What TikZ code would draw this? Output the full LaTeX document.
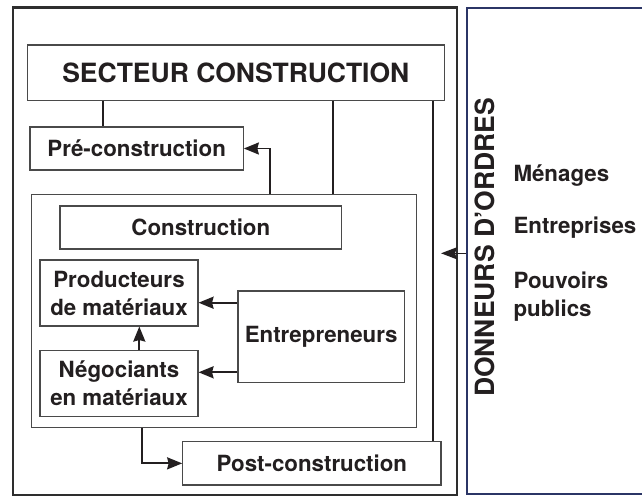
\documentclass[tikz,border=0pt]{standalone}
\usepackage{fontspec}
\setmainfont{TeX Gyre Heros}
\usetikzlibrary{arrows.meta}
\definecolor{ink}{HTML}{231F20}
\definecolor{boxline}{HTML}{4A4A4A}
\definecolor{frameline}{HTML}{2E2E2E}
\definecolor{navy}{HTML}{2B3566}
\begin{document}
\begin{tikzpicture}[x=1pt,y=-1pt,
  lbl/.style={text=ink,font=\fontsize{22.3}{28}\selectfont\bfseries,inner sep=0pt},
  box/.style={lbl,draw=boxline,line width=1.1pt,fill=white,align=center},
  bigbox/.style={box,font=\fontsize{26.5}{30}\selectfont\bfseries},
  frame/.style={draw=frameline,line width=2.4pt,inner sep=0pt},
  navyframe/.style={draw=navy,line width=2.2pt,inner sep=0pt},
  conn/.style={draw=ink,line width=1.9pt},
  arr/.style={conn,-{Stealth[length=15pt,width=12pt,inset=1.5pt]}}]
\useasboundingbox (0,0) rectangle (642,496);
\fill[white] (0,0) rectangle (642,496);

% frames
\node[frame, minimum width=444pt, minimum height=487.7pt] (left) at (234.7,251.2) {};
\node[navyframe, minimum width=193pt, minimum height=486.3pt] (right) at (563.5,251.15) {};
\node[box, minimum width=385pt, minimum height=233pt] (inner) at (224.2,310.8) {};

% boxes
\node[bigbox, minimum width=417pt, minimum height=55.7pt] (sect) at (235.8,72.85) {SECTEUR CONSTRUCTION};
\node[box, minimum width=213.3pt, minimum height=43pt] (pre) at (136.65,148.5) {Pré-construction};
\node[box, minimum width=281.7pt, minimum height=43pt] (constr) at (200.85,227.5) {Construction};
\node[box, minimum width=158pt, minimum height=66pt] (prod) at (119,293) {Producteurs\\de matériaux};
\node[box, minimum width=158pt, minimum height=66pt] (neg) at (119,383.7) {Négociants\\en matériaux};
\node[box, minimum width=166.3pt, minimum height=91.3pt] (entre) at (321.15,336.65) {Entrepreneurs};
\node[box, minimum width=258.3pt, minimum height=43.3pt] (post) at (311.85,463.35) {Post-construction};

% right side
\node[lbl, font=\fontsize{26.5}{30}\selectfont\bfseries, rotate=90] (donneurs) at (485,247.5) {DONNEURS D’ORDRES};
\node[lbl, anchor=base west] (menages) at (513.3,181.7) {Ménages};
\node[lbl, anchor=base west] (entreprises) at (513.3,233.3) {Entreprises};
\node[lbl, anchor=north west, align=left] (pouvoirs) at (513.3,271.6) {Pouvoirs\\publics};

% helper coordinates
\coordinate (xa) at (102.7,0);
\coordinate (xb) at (332.7,0);
\coordinate (xc) at (432.7,0);
\coordinate (xd) at (270,0);
\coordinate (xe) at (139.3,0);
\coordinate (xf) at (141.7,0);
\coordinate (ya) at (0,302.7);
\coordinate (yb) at (0,372.3);
\coordinate (yc) at (0,253.3);
\coordinate (tip) at (441,253.3);

% connectors
\draw[conn] (xa |- sect.south) -- (xa |- pre.north);
\draw[conn] (xb |- sect.south) -- (xb |- inner.north);
\draw[conn] (xc |- sect.south) -- (xc |- post.north);
\draw[arr] (xd |- inner.north) |- (pre.east);
\draw[arr] (entre.west |- ya) -- (prod.east |- ya);
\draw[arr] (entre.west |- yb) -- (neg.east |- yb);
\draw[arr] (xe |- neg.north) -- (xe |- prod.south);
\draw[arr] (xf |- inner.south) |- (post.west);
\draw[conn, line width=1.6pt, -{Stealth[length=16pt,width=12pt,inset=2pt]}] (right.west |- yc) -- (tip);
\end{tikzpicture}
\end{document}
